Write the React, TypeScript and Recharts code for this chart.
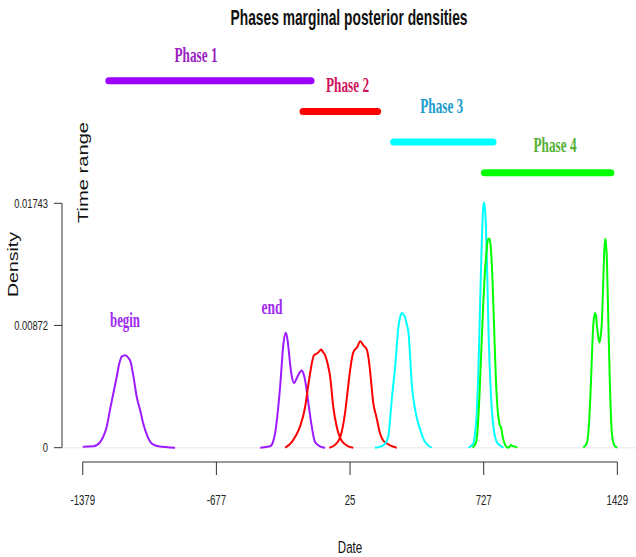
import React from 'react';
import { ComposedChart, Line, XAxis, YAxis, ReferenceLine } from 'recharts';

// ---- Time range (phase) data ----
const phaseNames = ['Phase 1', 'Phase 2', 'Phase 3', 'Phase 4'];
const phaseStart = [-1242, -222, 254, 731];
const phaseEnd = [-180, 170, 776, 1395];
const phaseLevel = [1, 2, 3, 4];
const phaseBarColors = ['#9B00FF', '#FF0000', '#00FFFF', '#00FF00'];
const phaseLabelColors = ['#9A1FC2', '#D0145A', '#1A9CCB', '#55B034'];

// ---- Axis ticks ----
const xTicks = [-1379, -677, 25, 727, 1429];
const yTicks = [0, 0.00872, 0.01743];
const yTickLabels = ['0', '0.00872', '0.01743'];

// ---- Marginal posterior densities: [date, density] ----
const phase1Begin: [number, number][] = [
  [-1379, 0.00007], [-1323, 0.0001], [-1288, 0.0004], [-1271, 0.0008], [-1253, 0.0015],
  [-1236, 0.0027], [-1218, 0.0039], [-1200, 0.0051], [-1187, 0.006], [-1174, 0.0065],
  [-1157, 0.0066], [-1139, 0.0064], [-1127, 0.0061], [-1113, 0.0051], [-1095, 0.0036],
  [-1078, 0.0027], [-1061, 0.0017], [-1039, 0.0008], [-1017, 0.0003], [-982, 0.0001], [-894, 0],
];
const phase1End: [number, number][] = [
  [-447, 0], [-395, 0.0001], [-380, 0.0004], [-369, 0.001], [-355, 0.0025], [-342, 0.0044],
  [-325, 0.0074], [-313, 0.0082], [-306, 0.0079], [-299, 0.0072], [-290, 0.006], [-281, 0.0051],
  [-269, 0.0046], [-257, 0.0049], [-246, 0.0052], [-229, 0.0055], [-220, 0.0053], [-211, 0.0048],
  [-194, 0.0032], [-176, 0.0015], [-159, 0.0004], [-133, 0.0001], [-106, 0],
];
const phase2Begin: [number, number][] = [
  [-316, 0], [-281, 0.0004], [-258, 0.0009], [-238, 0.0015], [-211, 0.0029], [-198, 0.0041],
  [-185, 0.0053], [-164, 0.0066], [-150, 0.0067], [-141, 0.0068], [-127, 0.007], [-116, 0.0068],
  [-106, 0.0066], [-93, 0.006], [-80, 0.0051], [-63, 0.0029], [-45, 0.0015], [-19, 0.0005],
  [16, 0.0001], [42, 0],
];
const phase2End: [number, number][] = [
  [-84, 0], [-54, 0.0002], [-28, 0.0007], [-1, 0.0025], [12, 0.004], [25, 0.0055], [42, 0.0068],
  [64, 0.0072], [78, 0.0076], [95, 0.0073], [113, 0.007], [122, 0.0064], [130, 0.0055],
  [147, 0.0032], [165, 0.0021], [183, 0.001], [200, 0.0005], [218, 0.0003], [270, 0],
];
const phase3Begin: [number, number][] = [
  [156, 0], [190, 0.0001], [209, 0.0003], [226, 0.0008], [235, 0.002], [244, 0.0034],
  [262, 0.0058], [279, 0.0086], [288, 0.0093], [297, 0.0096], [306, 0.0095], [314, 0.0093],
  [323, 0.0088], [332, 0.0082], [340, 0.0066], [349, 0.0046], [367, 0.0027], [393, 0.0013],
  [419, 0.0004], [454, 0],
];
const phase3End: [number, number][] = [
  [647, 0], [673, 0.0003], [682, 0.0011], [691, 0.0026], [698, 0.005], [705, 0.0085],
  [714, 0.0133], [723, 0.0168], [728, 0.0175], [735, 0.0168], [744, 0.0133], [752, 0.0085],
  [765, 0.0038], [779, 0.0014], [796, 0.0004], [810, 0.0002], [831, 0],
];
const phase4Begin: [number, number][] = [
  [669, 0], [687, 0.0004], [696, 0.0015], [705, 0.0038], [714, 0.0068], [723, 0.0097],
  [731, 0.012], [740, 0.0137], [746, 0.0146], [752, 0.0149], [757, 0.0149], [761, 0.0147],
  [769, 0.0133], [779, 0.0097], [791, 0.0049], [801, 0.0026], [806, 0.002], [810, 0.0017],
  [819, 0.0014], [828, 0.0007], [840, 0.0002], [857, 0], [864, 0.0001], [871, 0.0002],
  [878, 0.0001], [883, 0.0001], [904, 0],
];
const phase4End: [number, number][] = [
  [1250, 0], [1268, 0.0003], [1282, 0.0021], [1290, 0.0045], [1295, 0.0064], [1303, 0.0088],
  [1312, 0.0096], [1317, 0.0094], [1321, 0.0088], [1328, 0.008], [1335, 0.0075], [1341, 0.0079],
  [1347, 0.0088], [1356, 0.0123], [1361, 0.0142], [1365, 0.0149], [1369, 0.0146], [1374, 0.0135],
  [1382, 0.0088], [1391, 0.004], [1400, 0.0011], [1412, 0.0002], [1429, 0],
];

const curves = [
  { name: 'p1b', data: phase1Begin, color: '#9E1AFF' },
  { name: 'p1e', data: phase1End, color: '#9E1AFF' },
  { name: 'p2b', data: phase2Begin, color: '#FF0000' },
  { name: 'p2e', data: phase2End, color: '#FF0000' },
  { name: 'p3b', data: phase3Begin, color: '#00FFFF' },
  { name: 'p3e', data: phase3End, color: '#00FFFF' },
  { name: 'p4b', data: phase4Begin, color: '#00FF00' },
  { name: 'p4e', data: phase4End, color: '#00FF00' },
];

const SANS = '"Liberation Sans", Arial, sans-serif';
const SERIF = '"Liberation Serif", "Times New Roman", serif';
const AXIS = '#333';

const XTick = (props: any) => {
  const { x, y, payload } = props;
  return (
    <text transform={`translate(${x},${y + 30}) scale(0.69,1)`} textAnchor="middle"
      fontSize={14} fill="#222" fontFamily={SANS}>
      {payload.value}
    </text>
  );
};

const YTick = (props: any) => {
  const { x, y, payload } = props;
  const i = yTicks.indexOf(payload.value);
  return (
    <text transform={`translate(${x},${y + 4.5}) scale(0.72,1)`} textAnchor="end"
      fontSize={13} fill="#222" fontFamily={SANS}>
      {i >= 0 ? yTickLabels[i] : payload.value}
    </text>
  );
};

const phaseLabelPos = [
  { cx: 196, by: 61.7 },
  { cx: 347.5, by: 91.7 },
  { cx: 441.7, by: 112.7 },
  { cx: 555, by: 151.7 },
];

export default function App() {
  return (
    <div style={{ position: 'absolute', left: 0, top: 0, width: 636, height: 557, background: '#fff' }}>
      <ComposedChart width={636} height={557} margin={{ top: 0, right: 0, bottom: 0, left: 0 }}>
        <XAxis xAxisId={0} type="number" dataKey="x" domain={[-1488, 1527]} allowDataOverflow
          ticks={xTicks} interval={0} height={95} tickSize={13} tickMargin={0}
          axisLine={false} tickLine={{ stroke: AXIS }} tick={<XTick />} />
        <YAxis yAxisId="d" type="number" domain={[-0.00102, 0.03193]} allowDataOverflow
          ticks={yTicks} interval={0} width={62} tickSize={8} tickMargin={6}
          axisLine={false} tickLine={{ stroke: AXIS }} tick={<YTick />} />
        <YAxis yAxisId="tr" type="number" domain={[-1.638, 13.445]} allowDataOverflow reversed hide />
        <ReferenceLine yAxisId="d" y={0} stroke="#efefef" strokeWidth={1.5} />
        <ReferenceLine yAxisId="d" ifOverflow="visible" stroke={AXIS}
          segment={[{ x: -1488, y: 0 }, { x: -1488, y: 0.01743 }]} />
        <ReferenceLine yAxisId="d" ifOverflow="visible" stroke={AXIS}
          segment={[{ x: -1379, y: -0.00102 }, { x: 1429, y: -0.00102 }]} />
        {phaseNames.map((n, i) => (
          <Line key={n} yAxisId="tr" type="linear" dataKey="y"
            data={[{ x: phaseStart[i], y: phaseLevel[i] }, { x: phaseEnd[i], y: phaseLevel[i] }]}
            stroke={phaseBarColors[i]} strokeWidth={7} strokeLinecap="round"
            dot={false} activeDot={false} isAnimationActive={false} />
        ))}
        {curves.map((c) => (
          <Line key={c.name} yAxisId="d" type="monotone" dataKey="y"
            data={c.data.map(([x, y]) => ({ x, y }))}
            stroke={c.color} strokeWidth={2} dot={false} activeDot={false}
            isAnimationActive={false} />
        ))}
      </ComposedChart>
      <svg width={636} height={557} style={{ position: 'absolute', left: 0, top: 0, pointerEvents: 'none' }}>
        <text x={349} y={25} textAnchor="middle" fontSize={22} fontWeight="bold" fontFamily={SANS}
          fill="#111" textLength={237} lengthAdjust="spacingAndGlyphs">
          Phases marginal posterior densities
        </text>
        {phaseNames.map((n, i) => (
          <text key={n} x={phaseLabelPos[i].cx} y={phaseLabelPos[i].by} textAnchor="middle"
            fontSize={21} fontWeight="bold" fontFamily={SERIF} fill={phaseLabelColors[i]}
            textLength={43} lengthAdjust="spacingAndGlyphs">
            {n}
          </text>
        ))}
        <text x={125} y={326.7} textAnchor="middle" fontSize={20} fontWeight="bold" fontFamily={SERIF}
          fill="#A02AF0" textLength={30} lengthAdjust="spacingAndGlyphs">begin</text>
        <text x={272} y={314} textAnchor="middle" fontSize={20} fontWeight="bold" fontFamily={SERIF}
          fill="#A02AF0" textLength={21} lengthAdjust="spacingAndGlyphs">end</text>
        <text transform="translate(350,553) scale(0.68,1)" textAnchor="middle" fontSize={17}
          fontFamily={SANS} fill="#111">Date</text>
        <text transform="translate(17.5,264.5) scale(0.7,1) rotate(-90)" textAnchor="middle"
          fontSize={20} fontFamily={SANS} fill="#111" textLength={65} lengthAdjust="spacingAndGlyphs">Density</text>
        <text transform="translate(87.5,172.5) scale(0.7,1) rotate(-90)" textAnchor="middle"
          fontSize={20} fontFamily={SANS} fill="#111" textLength={101} lengthAdjust="spacingAndGlyphs">Time range</text>
      </svg>
    </div>
  );
}
